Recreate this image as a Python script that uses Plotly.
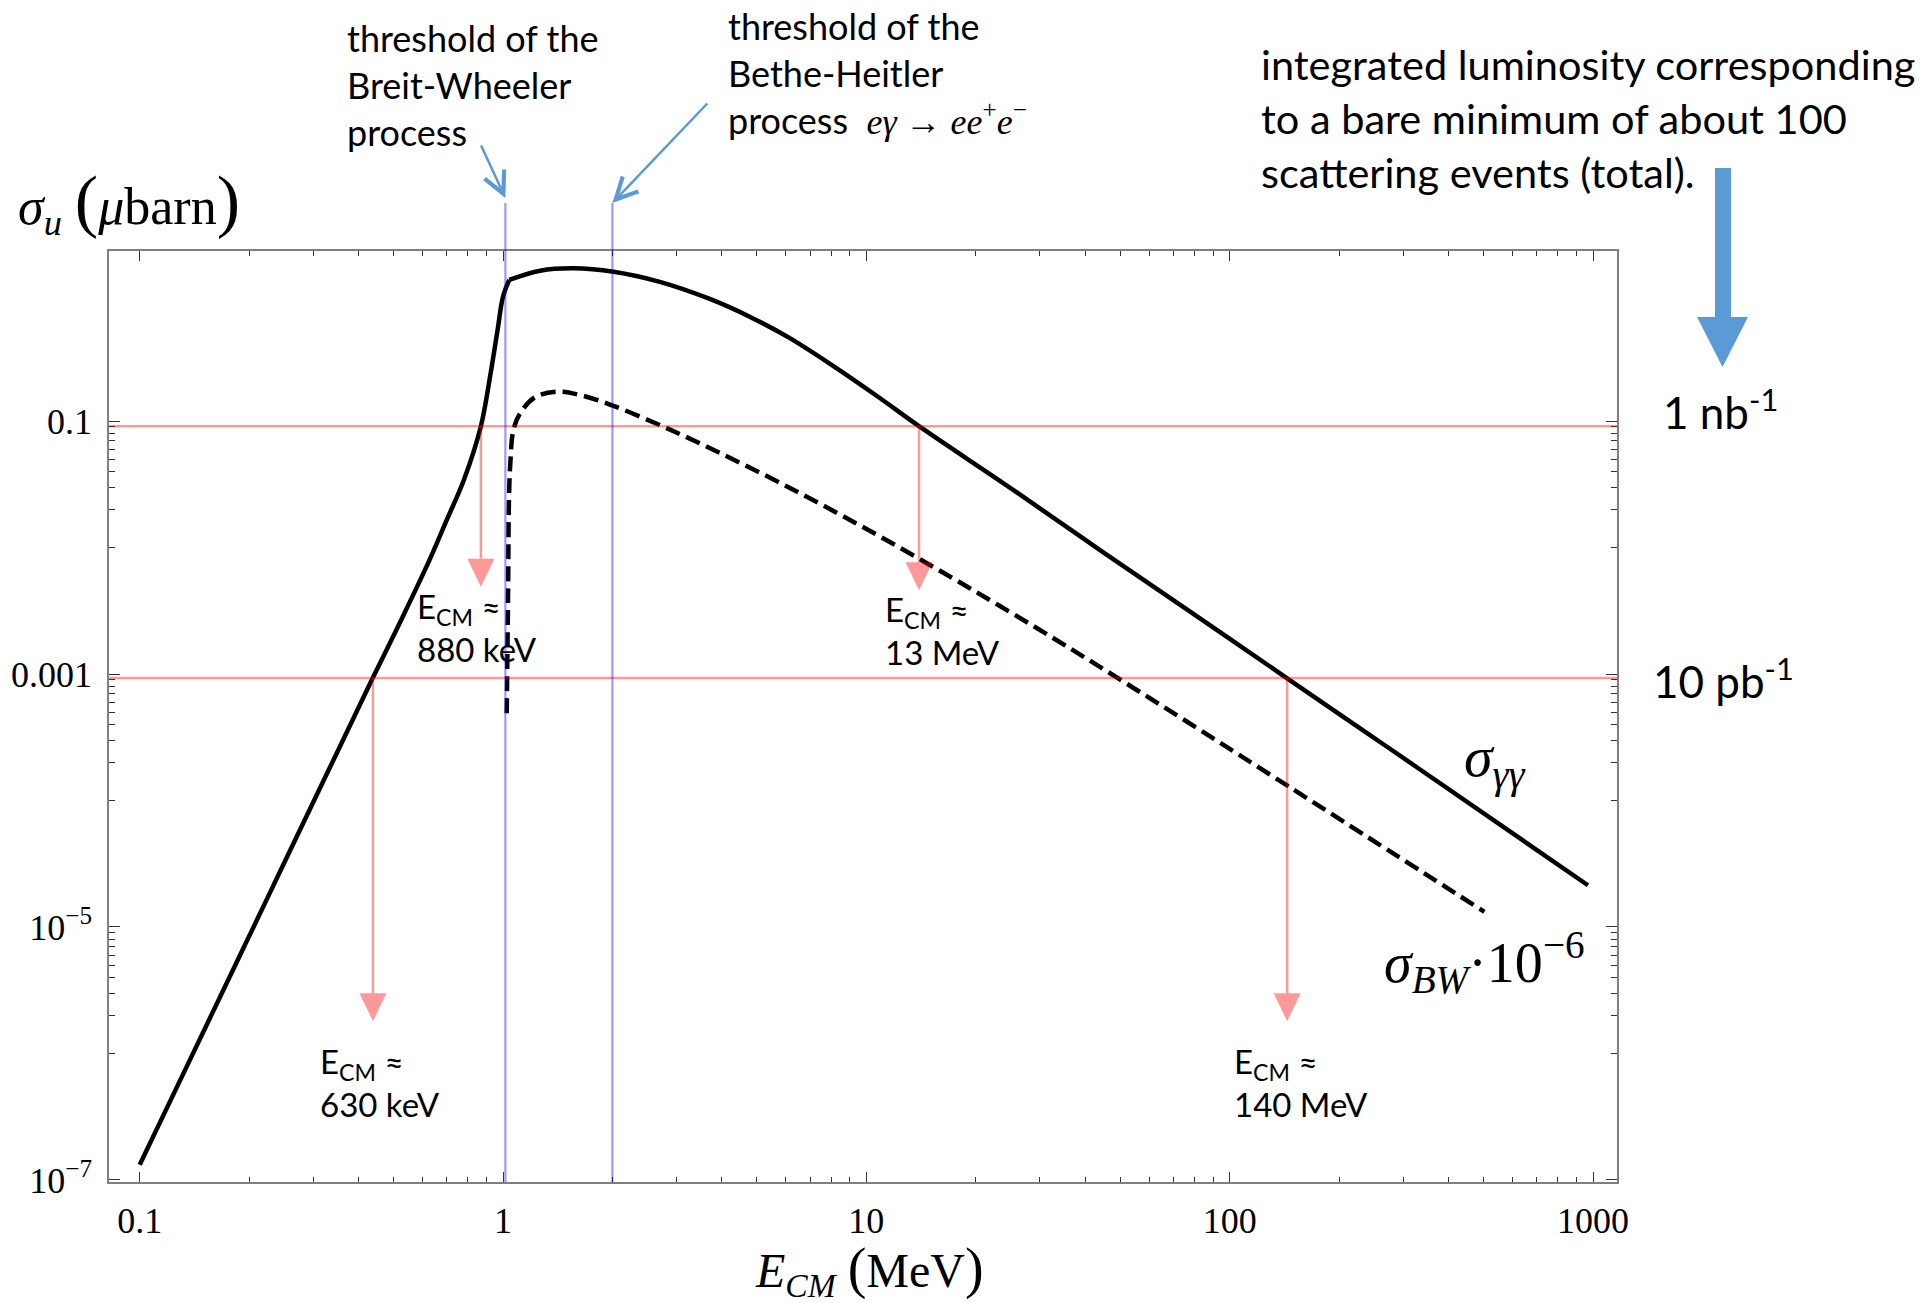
import math
import plotly.graph_objects as go

# ---------------- data ----------------
# total photon-photon cross section sigma_gg (micro-barn) vs E_CM (MeV)
E_gg = [0.100, 0.1352, 0.1897, 0.2443, 0.3162, 0.4130, 0.4375, 0.5260, 0.6228, 0.6982,
        0.7816, 0.8690, 0.9247, 0.9661, 1.000, 1.040, 1.265, 1.561, 2.014, 2.701,
        3.707, 4.786, 6.124, 7.943, 10.79, 13.96, 25.23, 44.46, 78.16, 143.9,
        235.5, 330.4, 968.3]
sigma_gg = [1.318e-7, 8.054e-7, 6.138e-6, 2.805e-5, 1.318e-4, 6.546e-4, 9.247e-4, 2.723e-3, 7.586e-3, 0.01622,
            0.03467, 0.09099, 0.2399, 0.5248, 0.9616, 1.303, 1.542, 1.611, 1.514, 1.259,
            0.9226, 0.6653, 0.4560, 0.2831, 0.1549, 0.09099, 0.02884, 0.009333, 0.003090, 0.0009247,
            0.0003508, 0.0001799, 2.138e-5]
E_kink = 1.040  # Breit-Wheeler threshold kink of sigma_gg

# Breit-Wheeler cross section times 1e-6
E_bw = [1.0238, 1.0323, 1.0387, 1.0474, 1.0681, 1.1138, 1.2274, 1.4158, 1.6255, 1.9861,
        2.6303, 3.4834, 6.1235, 10.789, 19.011, 33.420, 48.306, 80.538, 144.54, 502.34]
sigma_bw = [4.898e-4, 4.074e-3, 0.02512, 0.04677, 0.08511, 0.1148, 0.1549, 0.1706, 0.1607, 0.1337,
            0.09594, 0.06653, 0.02985, 0.01242, 0.004875, 0.001849, 0.0009594, 0.0003802, 0.0001303, 1.318e-5]

E_thresholds = [1.015, 2.0]                 # Breit-Wheeler, Bethe-Heitler
lumi_levels = [0.091, 0.00093]               # 100 events for 1 nb^-1 and 10 pb^-1
lumi_labels = ["1 nb<sup>-1</sup>", "10 pb<sup>-1</sup>"]
arrow_E = [0.4385, 0.869, 13.96, 143.9]
arrow_from = [0.00093, 0.091, 0.091, 0.00093]
arrow_tip = [1.8e-6, 0.0049, 0.0046, 1.8e-6]
arrow_labels = ["630 keV", "880 keV", "13 MeV", "140 MeV"]

x_tickvals = [0.1, 1, 10, 100, 1000]
x_ticktext = ["0.1", "1", "10", "100", "1000"]
y_tickvals = [1e-7, 1e-5, 1e-3, 1e-1]
y_ticktext = ["10<sup>\u22127</sup>", "10<sup>\u22125</sup>", "0.001", "0.1"]

# ---------------- layout geometry ----------------
W, H = 1932, 1303
ML, MR, MT, MB = 109, 315, 251, 121
XR = [-1.0845, 3.066]
YR = [-7.016, 0.344]
PW, PH = W - ML - MR, H - MT - MB
DEC_X = PW / (XR[1] - XR[0])
DEC_Y = PH / (YR[1] - YR[0])


def paper_x(px):
    return (px - ML) / PW


def paper_y(py):
    return (H - MB - py) / PH


SANS = "Lato"
SERIF = "Liberation Serif"
RED = "rgba(255,0,0,0.4)"
BLUE_LINE = "rgba(0,0,255,0.4)"
BLUE_ARROW = "#5B9BD5"

fig = go.Figure()

k = E_gg.index(E_kink)
fig.add_trace(go.Scatter(x=E_gg[:k + 1], y=sigma_gg[:k + 1], mode="lines",
                         line=dict(color="black", width=4.5, shape="spline", smoothing=1.0),
                         hoverinfo="skip", showlegend=False))
fig.add_trace(go.Scatter(x=E_gg[k:], y=sigma_gg[k:], mode="lines",
                         line=dict(color="black", width=4.5, shape="spline", smoothing=1.0),
                         hoverinfo="skip", showlegend=False))
fig.add_trace(go.Scatter(x=E_bw, y=sigma_bw, mode="lines",
                         line=dict(color="black", width=4.5, dash="15px,7px", shape="spline", smoothing=1.0),
                         hoverinfo="skip", showlegend=False))

# red arrows (shaft + filled head), computed in data units through the axis scale
HEAD_H, HEAD_HW = 28.0, 13.5
for e, lev, tip in zip(arrow_E, arrow_from, arrow_tip):
    le, lt = math.log10(e), math.log10(tip)
    base = 10 ** (lt + HEAD_H / DEC_Y)
    dx = HEAD_HW / DEC_X
    fig.add_trace(go.Scatter(x=[e, e], y=[lev, base], mode="lines",
                             line=dict(color=RED, width=2.5), hoverinfo="skip", showlegend=False))
    fig.add_trace(go.Scatter(x=[10 ** (le - dx), 10 ** (le + dx), e, 10 ** (le - dx)],
                             y=[base, base, tip, base], mode="lines", fill="toself",
                             fillcolor=RED, line=dict(width=0, color=RED),
                             hoverinfo="skip", showlegend=False))

shapes = []
for lev in lumi_levels:
    shapes.append(dict(type="line", xref="paper", yref="y", x0=0, x1=1, y0=lev, y1=lev,
                       line=dict(color=RED, width=2.5)))
for e in E_thresholds:
    shapes.append(dict(type="line", xref="x", yref="paper", x0=e, x1=e, y0=0, y1=paper_y(203),
                       line=dict(color=BLUE_LINE, width=2.2)))
# thick blue arrow on the right
pts = [(1715, 168), (1731, 168), (1731, 317), (1748, 317), (1722.5, 367), (1697, 317), (1715, 317)]
path = "M " + " L ".join(f"{paper_x(a):.5f},{paper_y(b):.5f}" for a, b in pts) + " Z"
shapes.append(dict(type="path", xref="paper", yref="paper", path=path,
                   fillcolor=BLUE_ARROW, line=dict(width=0)))

ann = []
ann.append(dict(x=paper_x(345), y=paper_y(85), xref="paper", yref="paper", xanchor="left", yanchor="middle",
                align="left", showarrow=False, font=dict(family=SANS, size=36, color="black"),
                text="threshold of the<br>Breit-Wheeler<br>process"))
ann.append(dict(x=paper_x(726), y=paper_y(73), xref="paper", yref="paper", xanchor="left", yanchor="middle",
                align="left", showarrow=False, font=dict(family=SANS, size=36, color="black"),
                text="threshold of the<br>Bethe-Heitler<br>process  <span style='font-family:Liberation Serif'>"
                     "<i>e\u03b3</i> \u2192 <i>ee</i><sup>+</sup><i>e</i><sup>\u2212</sup></span>"))
ann.append(dict(x=paper_x(1259), y=paper_y(118), xref="paper", yref="paper", xanchor="left", yanchor="middle",
                align="left", showarrow=False, font=dict(family=SANS, size=41.5, color="black"),
                text="integrated luminosity corresponding<br>to a bare minimum of about 100<br>"
                     "scattering events (total)."))
for lab, (cx, cy) in zip(lumi_labels, [(1720, 409), (1723, 678)]):
    ann.append(dict(x=paper_x(cx), y=paper_y(cy), xref="paper", yref="paper", xanchor="center",
                    yanchor="middle", showarrow=False, font=dict(family=SANS, size=44, color="black"),
                    text=lab))
label_shift = [(-55, -61), (-66, -41), (-36, -40), (-55, -61)]
for e, tip, lab, (sx, sy) in zip(arrow_E, arrow_tip, arrow_labels, label_shift):
    ann.append(dict(x=math.log10(e), y=math.log10(tip), xref="x", yref="y", xanchor="left",
                    yanchor="middle", align="left", xshift=sx, yshift=sy, showarrow=False,
                    font=dict(family=SANS, size=33, color="black"),
                    text="E<sub>CM</sub> \u2248<br>" + lab))
# curve labels
ann.append(dict(x=paper_x(1462), y=paper_y(760), xref="paper", yref="paper", xanchor="left", yanchor="middle",
                showarrow=False, font=dict(family=SERIF, size=58, color="black"),
                text="<i>\u03c3</i><sub><i>\u03b3\u03b3</i></sub>"))
ann.append(dict(x=paper_x(1382), y=paper_y(962), xref="paper", yref="paper", xanchor="left", yanchor="middle",
                showarrow=False, font=dict(family=SERIF, size=56, color="black"),
                text="<i>\u03c3</i><sub><i>BW</i></sub>\u00b710<sup>\u22126</sup>"))
# axis titles
ann.append(dict(x=paper_x(16), y=paper_y(202), xref="paper", yref="paper", xanchor="left", yanchor="middle",
                showarrow=False, font=dict(family=SERIF, size=52, color="black"),
                text="<i>\u03c3</i><sub><i>u</i></sub> <span style='font-size:70px'>(</span><i>\u03bc</i>barn"
                     "<span style='font-size:70px'>)</span>"))
ann.append(dict(x=paper_x(870), y=paper_y(1270), xref="paper", yref="paper", xanchor="center", yanchor="middle",
                showarrow=False, font=dict(family=SERIF, size=48, color="black"),
                text="<i>E</i><sub><i>CM</i></sub> <span style='font-size:56px'>(</span>MeV"
                     "<span style='font-size:56px'>)</span>"))
# thin blue pointer arrows to the threshold lines
for e, (tx, ty), (hx, hy) in zip(E_thresholds, [(480, 144), (708, 102)], [(505, 198), (611.7, 203)]):
    ann.append(dict(x=math.log10(e), y=paper_y(hy), xref="x", yref="paper", ax=tx - hx, ay=ty - hy,
                    axref="pixel", ayref="pixel", text="", showarrow=True, arrowhead=5, arrowsize=1.7,
                    arrowwidth=2.5, arrowcolor=BLUE_ARROW, standoff=0, font=dict(size=1)))

axis_common = dict(showline=True, linecolor="#7f7f7f", linewidth=1.5, mirror="ticks", showgrid=False,
                   zeroline=False, ticks="inside", tickcolor="#333333", tickwidth=1.3,
                   tickfont=dict(family=SERIF, size=36, color="black"))

fig.update_layout(
    width=W, height=H, autosize=False,
    margin=dict(l=ML, r=MR, t=MT, b=MB, pad=0),
    plot_bgcolor="white", paper_bgcolor="white", showlegend=False,
    xaxis=dict(type="log", range=XR, tickmode="array", tickvals=x_tickvals, ticktext=x_ticktext,
               ticklen=10, ticklabelstandoff=6,
               minor=dict(tickvals=[m * 10 ** d for d in range(-1, 3) for m in range(2, 10)],
                          ticks="inside", ticklen=5, tickcolor="#333333", tickwidth=1.2),
               **axis_common),
    yaxis=dict(type="log", range=YR, tickmode="array", tickvals=y_tickvals, ticktext=y_ticktext,
               ticklen=11, ticklabelstandoff=8,
               minor=dict(tickvals=[m * v / 10 for v in y_tickvals for m in range(1, 10)],
                          ticks="inside", ticklen=6, tickcolor="#333333", tickwidth=1.2),
               **axis_common),
    shapes=shapes, annotations=ann,
)

fig.write_html("out.html", config={"displayModeBar": False},
               post_script="document.body.style.margin='0';")
